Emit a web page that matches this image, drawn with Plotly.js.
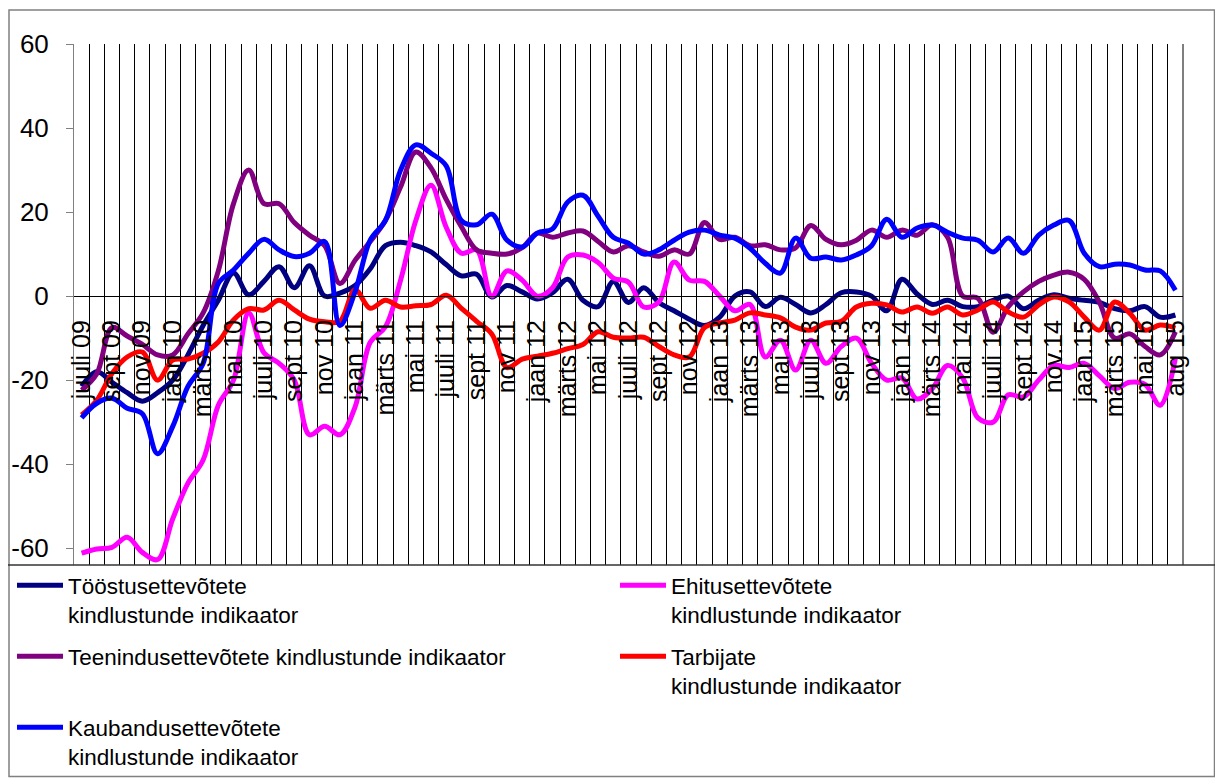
<!DOCTYPE html>
<html>
<head>
<meta charset="utf-8">
<script src="https://cdn.plot.ly/plotly-3.0.1.min.js"></script>
<style>
html,body{margin:0;padding:0;background:#fff;}
#chart{width:1215px;height:778px;}
</style>
</head>
<body>
<div id="chart"></div>
<script>
// Month categories (every second one is shown as a tick label)
const categories = [
 "juuli 09","aug 09","sept 09","okt 09","nov 09","dets 09",
 "jaan 10","veebr 10","märts 10","apr 10","mai 10","juuni 10","juuli 10","aug 10","sept 10","okt 10","nov 10","dets 10",
 "jaan 11","veebr 11","märts 11","apr 11","mai 11","juuni 11","juuli 11","aug 11","sept 11","okt 11","nov 11","dets 11",
 "jaan 12","veebr 12","märts 12","apr 12","mai 12","juuni 12","juuli 12","aug 12","sept 12","okt 12","nov 12","dets 12",
 "jaan 13","veebr 13","märts 13","apr 13","mai 13","juuni 13","juuli 13","aug 13","sept 13","okt 13","nov 13","dets 13",
 "jaan 14","veebr 14","märts 14","apr 14","mai 14","juuni 14","juuli 14","aug 14","sept 14","okt 14","nov.14","dets.14",
 "jaan.15","veebr.15","märts 15","apr 15","mai 15","juuni 15","aug 15"
];

const toostus = [-21.5,-18,-20.5,-23,-25,-23,-20,-14,-7,-1,5.5,0.3,3.5,7,2,7.2,0,0.7,2.5,6.5,
 12,12.8,12,10.5,7.5,4.8,5.2,-0.2,2.5,1,-0.7,0.8,4,-1,-2.5,3.5,-1.5,2,-1.5,-3.5,
 -5.5,-7,-5,0,1,-2.5,-0.3,-2,-4,-2,0.8,1,0,-3.5,4,0.5,-2,-1,-2.5,-2.5,
 -1,0,-3,-1,0.3,-0.5,-1,-1.5,-3,-3.5,-2.5,-5,-4.5];

const ehitus = [-61.2,-60.2,-59.8,-57.4,-61,-62.7,-53,-44.5,-39,-26,-20,-4,-13.5,-16,-20,-33,-31,-33,-26.4,-11,
 -7.3,3.8,18,26.4,16.4,10.2,11,0,6,3.8,0,2,9.3,9.8,8,4.3,3.3,-2.6,-1.4,8.1,
 3.8,3.5,0,-3.5,-2,-14.5,-10.5,-17.6,-10.5,-16,-12,-10,-16,-20,-19.5,-24.5,-22,-16.5,-19.5,-29,
 -30,-23.5,-24,-20,-16.5,-17,-16,-19,-22,-20.5,-21,-26,-14.8];

const teenindus = [-22.4,-18.5,-7.5,-9.5,-11.5,-14,-14,-9,-4,6,22,30,22,22,17.5,14.5,12,3,8.5,13,
 18,26,34.3,30.5,23,16.5,11,10.2,10,11.5,15,14,15,15.5,13,10.5,12,10.5,9.5,11,
 10,17.5,13.5,14,12,12.2,11,11.5,16.8,13.5,12.2,13.3,15.7,14,15.7,14.5,17,14,0,-0.5,
 -8.6,-2.5,1,3.5,5,5.7,4,-1.5,-10,-9,-12,-14,-8.5];

const tarbijad = [-28.3,-24.8,-18.4,-14.5,-13.3,-20,-15.2,-15,-13.6,-10.9,-5.7,-3,-3.3,-1,-3.3,-5.5,-6.1,-6,1.5,-2.9,
 -1,-2.6,-2.3,-2,0.2,-2.9,-6,-9,-17,-15,-14.3,-13.6,-12.5,-11.5,-8.5,-9.8,-10,-9.8,-12,-14,
 -14.5,-7.5,-6.4,-5.7,-4,-4.5,-5.2,-7.4,-8.1,-6.4,-6,-2.6,-1.7,-2.1,-3.8,-2.6,-4.1,-2.6,-4.5,-3.3,
 -1.4,-3.8,-5,-2.1,-0.2,-1.4,-5,-8.1,-1.4,-4.1,-8.1,-6.9,-7.6];

const kaubandus = [-29,-25.5,-24.3,-26.7,-28,-37.5,-31,-21.5,-16,3,6.2,10.2,13.5,11,9.4,10.2,13,-7,1,13.3,
 18,30,36,34,31,18,17,19.5,13.3,11.7,15,16,22.4,24,19,14,12.6,10,11,13.3,
 15.2,15.7,14.5,13.8,11.4,7.8,5.5,13.8,9,9.3,8.6,9.8,12,18.3,14,16.2,16.9,15.2,13.8,13.3,
 10.5,13.8,10.2,14.5,16.9,18,10.2,7,7.6,7.4,6.2,6,1.4];

const seriesNames = [
 "Tööstusettevõtete<br>kindlustunde indikaator",
 "Ehitusettevõtete<br>kindlustunde indikaator",
 "Teenindusettevõtete kindlustunde indikaator",
 "Tarbijate<br>kindlustunde indikaator",
 "Kaubandusettevõtete<br>kindlustunde indikaator"
];
const seriesColors = ["#000080","#FF00FF","#800080","#FF0000","#0000FF"];
const seriesValues = [toostus, ehitus, teenindus, tarbijad, kaubandus];
const yTicks = [-60,-40,-20,0,20,40,60];

const idx = categories.map((c,i)=>i);
const tickIdx = idx.filter(i => i % 2 === 0);
const boundaries = categories.map((c,i)=>i-0.5).concat([categories.length-0.5]);

// pixel geometry
const L=74, R=1183, T=44, B=565, W=1215, H=778;
const px = v => (v-L)/(R-L);
const py = v => (B-v)/(B-T);
const yMin=-64, yMax=60;
const fam = '"Liberation Sans", Arial, sans-serif';

// legend slots: two columns, three rows (each series gets its own legend box)
const legendIds = ['legend','legend2','legend3','legend4','legend5'];
const legendPos = [[12,564],[615,564],[12,635],[615,635],[12,706]];

const traces = seriesValues.map((vals,k)=>({
  type:'scatter', mode:'lines', x: idx, y: vals, name: seriesNames[k],
  legend: legendIds[k],
  line:{color: seriesColors[k], width:5, shape:'spline', smoothing:1},
  hoverinfo:'skip'
}));

const layout = {
  width:W, height:H,
  margin:{l:L, r:W-R, t:T, b:H-B, pad:0, autoexpand:false},
  paper_bgcolor:'#fff', plot_bgcolor:'rgba(0,0,0,0)',
  font:{family:fam, size:23, color:'#000'},
  showlegend:true,
  xaxis:{
    range:[-0.5, categories.length-0.5], fixedrange:true,
    anchor:'free', position:(0-yMin)/(yMax-yMin), automargin:false,
    tickmode:'array', tickvals: tickIdx, ticktext: tickIdx.map(i=>categories[i]),
    tickangle:-90, ticks:'', showgrid:false, zeroline:false,
    showline:true, linecolor:'#000', linewidth:1,
    ticklabelstandoff:13,
    tickfont:{family:fam, size:25, color:'#000'},
    minor:{tickmode:'array', tickvals: boundaries, showgrid:true, gridcolor:'#000', gridwidth:1, ticks:''}
  },
  yaxis:{
    range:[yMin,yMax], fixedrange:true, automargin:false,
    tickmode:'array', tickvals:yTicks, ticktext:yTicks.map(String),
    ticks:'outside', ticklen:7, tickcolor:'#808080', tickwidth:1,
    showline:true, linecolor:'#808080', linewidth:1,
    showgrid:false, zeroline:false,
    ticklabelstandoff:12,
    tickfont:{family:fam, size:26, color:'#000'}
  },
  shapes:[
    {type:'rect', xref:'paper', yref:'paper', x0:px(9), x1:px(1214.5), y0:py(776.5), y1:py(10),
     line:{color:'#808080', width:1.5}, fillcolor:'rgba(0,0,0,0)', layer:'above'},
    {type:'line', xref:'paper', yref:'paper', x0:px(8), x1:px(1215), y0:py(565), y1:py(565),
     line:{color:'#333', width:1.5}, layer:'above'},
    {type:'line', xref:'paper', yref:'paper', x0:1, x1:1, y0:0, y1:1,
     line:{color:'#000', width:1}, layer:'below'}
  ]
};

legendIds.forEach((id,k)=>{
  layout[id] = {
    orientation:'v', xref:'container', yref:'container',
    x:legendPos[k][0]/W, y:1-legendPos[k][1]/H, xanchor:'left', yanchor:'top',
    itemwidth:46, valign:'top', bgcolor:'rgba(0,0,0,0)', borderwidth:0,
    font:{family:fam, size:22.5, color:'#000'}
  };
});

Plotly.newPlot('chart', traces, layout, {displayModeBar:false, staticPlot:true});
</script>
</body>
</html>
